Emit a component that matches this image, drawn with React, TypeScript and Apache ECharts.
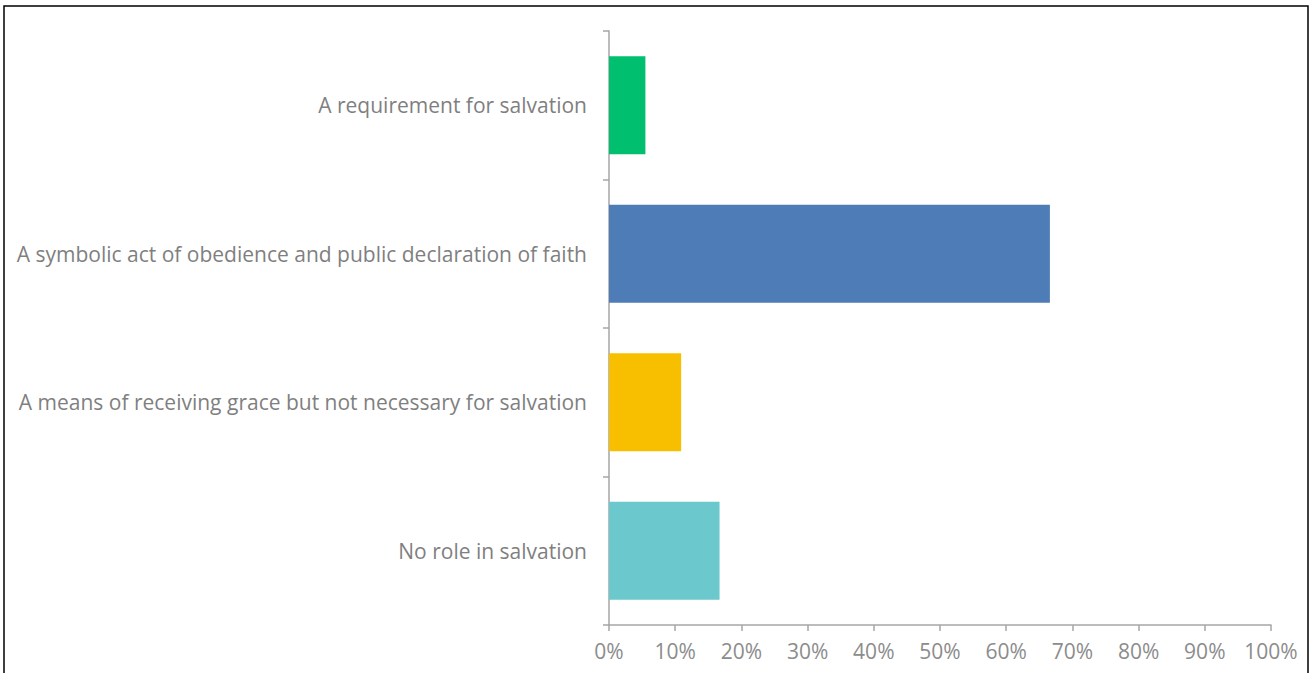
import React, { useEffect, useRef } from "react";
import * as echarts from "echarts";

const categories = [
  "A requirement for salvation",
  "A symbolic act of obedience and public declaration of faith",
  "A means of receiving grace but not necessary for salvation",
  "No role in salvation",
];
const values = [5.5, 66.6, 10.9, 16.7];
const barColors = ["#00BF6F", "#4E7CB6", "#F8BE00", "#6BC8CD"];
const xTicks = [0, 10, 20, 30, 40, 50, 60, 70, 80, 90, 100];

export default function App() {
  const ref = useRef<HTMLDivElement>(null);
  useEffect(() => {
    if (!ref.current) return;
    const chart = echarts.init(ref.current, null, { renderer: "svg" });
    const font = "'Open Sans', Lato, sans-serif";
    chart.setOption({
      animation: false,
      backgroundColor: "#ffffff",
      graphic: [
        {
          type: "rect",
          shape: { x: 4, y: 6, width: 1304, height: 720 },
          style: { fill: "none", stroke: "#000000", lineWidth: 1.5 },
          silent: true,
        },
      ],
      grid: { left: 609, right: 43, top: 31, bottom: 48, containLabel: false },
      xAxis: {
        type: "value",
        min: 0,
        max: 100,
        interval: 10,
        splitLine: { show: false },
        axisLine: { show: true, lineStyle: { color: "#A6A6A6", width: 1.5 } },
        axisTick: { show: true, length: 6, lineStyle: { color: "#A6A6A6", width: 1.5 } },
        axisLabel: {
          margin: 15,
          color: "#8C8C8C",
          fontSize: 21,
          fontFamily: font,
          formatter: (v: number) => (xTicks.includes(v) ? v + "%" : ""),
        },
      },
      yAxis: {
        type: "category",
        data: categories,
        inverse: true,
        axisLine: { show: true, lineStyle: { color: "#A6A6A6", width: 1.5 } },
        axisTick: { show: true, length: 6, lineStyle: { color: "#A6A6A6", width: 1.5 } },
        axisLabel: {
          margin: 22,
          color: "#7F7F7F",
          fontSize: 21,
          fontFamily: font,
        },
      },
      series: [
        {
          type: "bar",
          barWidth: "66%",
          data: values.map((v, i) => ({ value: v, itemStyle: { color: barColors[i] } })),
        },
      ],
    });
    return () => chart.dispose();
  }, []);
  return (
    <div
      ref={ref}
      style={{ position: "absolute", left: 0, top: 0, width: 1314, height: 673 }}
    />
  );
}
